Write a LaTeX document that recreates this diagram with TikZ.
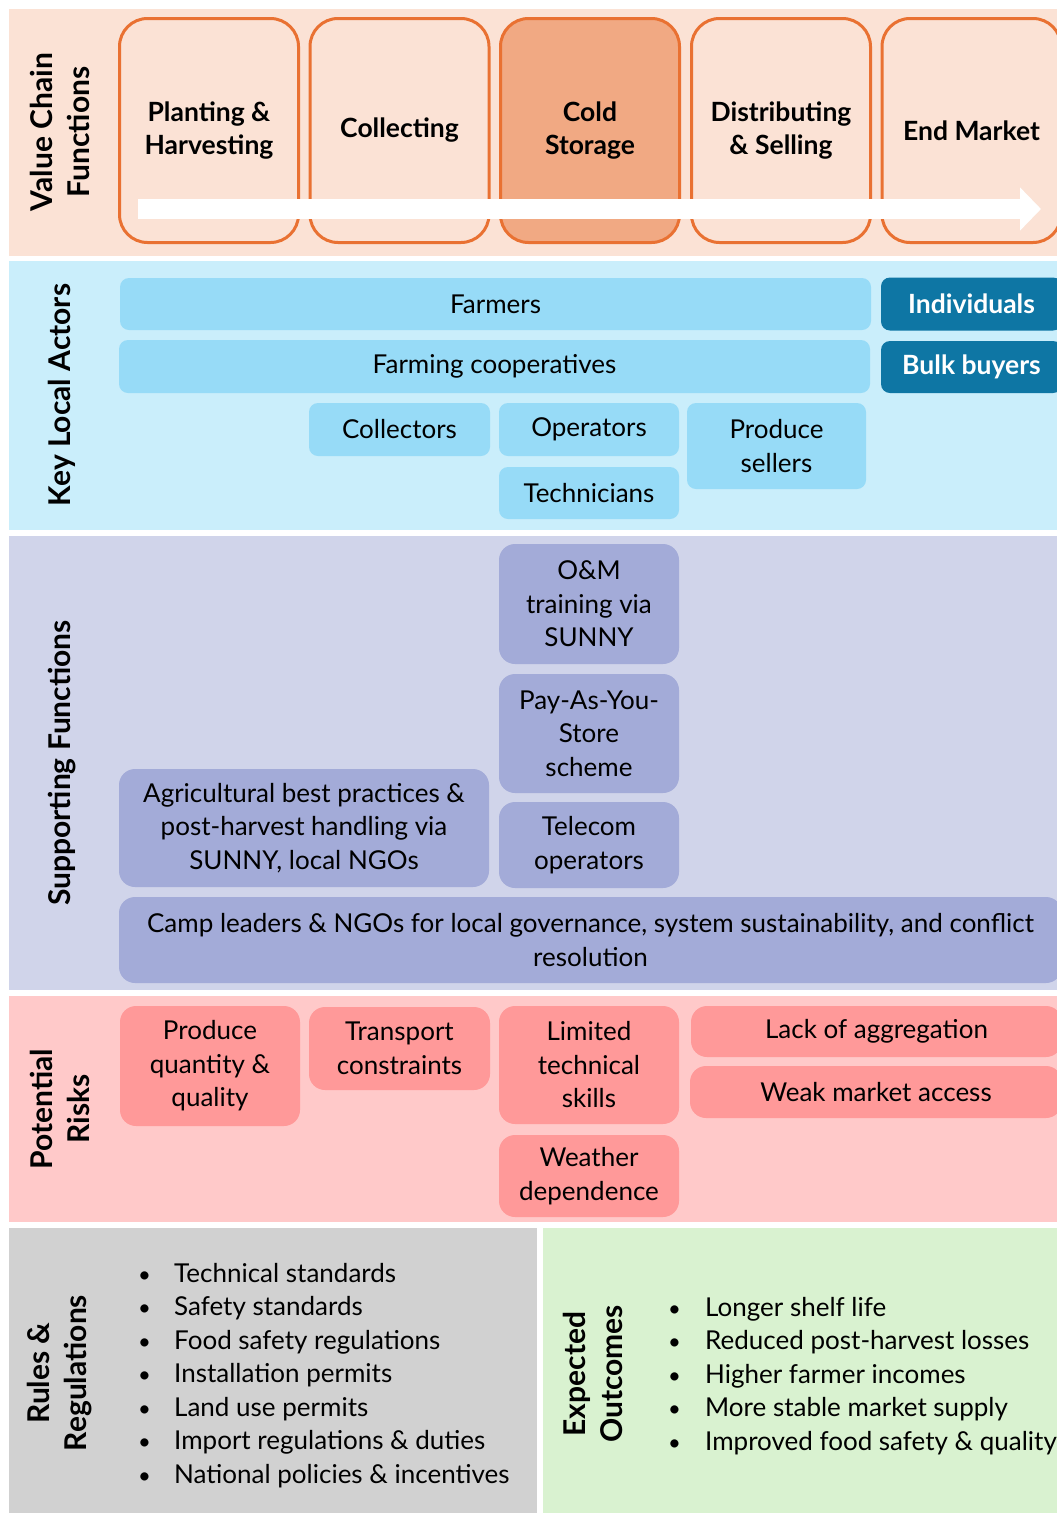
\documentclass[tikz,border=0pt]{standalone}
\usepackage{fontspec}
\setmainfont{Lato}
\usetikzlibrary{arrows.meta}

\definecolor{vcbg}{HTML}{FBE2D5}
\definecolor{vcline}{HTML}{E97132}
\definecolor{vcfill}{HTML}{F1A983}
\definecolor{actbg}{HTML}{CAEEFB}
\definecolor{actbox}{HTML}{97DBF7}
\definecolor{actdark}{HTML}{0E76A4}
\definecolor{supbg}{HTML}{D0D4EA}
\definecolor{supbox}{HTML}{A3ABD8}
\definecolor{riskbg}{HTML}{FFC9C9}
\definecolor{riskbox}{HTML}{FF9999}
\definecolor{rulebg}{HTML}{D1D1D1}
\definecolor{outbg}{HTML}{D9F2D0}

\tikzset{
  bodyfont/.style={font=\fontsize{26}{33.5}\selectfont},
  cell/.style={bodyfont, inner sep=0pt, outer sep=0pt, align=center, text=black},
  vcbox/.style={cell, draw=vcline, line width=3pt, rounded corners=28pt,
    fill=vcbg, minimum width=179pt, minimum height=224pt,
    font=\fontsize{26.5}{33.5}\selectfont\bfseries},
  actor/.style={cell, fill=actbox, rounded corners=9pt},
  buyer/.style={cell, fill=actdark, rounded corners=9pt, text=white,
    font=\fontsize{26.5}{33.5}\selectfont\bfseries},
  support/.style={cell, fill=supbox, rounded corners=16pt},
  risk/.style={cell, fill=riskbox, rounded corners=16pt},
  sidelabel/.style={inner sep=0pt, align=center, rotate=90,
    font=\fontsize{30}{37}\selectfont\bfseries},
  listline/.style={bodyfont, inner sep=0pt, anchor=base west},
}

\begin{document}
\begin{tikzpicture}[x=1pt,y=-1pt]
\useasboundingbox (0,0) rectangle (1057,1513);
\fill[white] (0,0) rectangle (1057,1513);

% background bands
\fill[vcbg]   (9,9)    rectangle (1057,256);
\fill[actbg]  (9,261)  rectangle (1057,530);
\fill[supbg]  (9,536)  rectangle (1057,990);
\fill[riskbg] (9,996)  rectangle (1057,1222);
\fill[rulebg] (9,1228) rectangle (537,1513);
\fill[outbg]  (543,1228) rectangle (1057,1513);

% value chain functions
\node[sidelabel] (vclab) at (60,132) {Value Chain\\Functions};
\node[vcbox] (plant) at (209,130.5)   {Planting \&\\Harvesting};
\node[vcbox] (coll)  at (399.5,130.5) {Collecting};
\node[vcbox, fill=vcfill] (cold) at (590,130.5) {Cold\\Storage};
\node[vcbox] (dist)  at (781,130.5)   {Distributing\\\& Selling};
\node[vcbox] (endm)  at (971.5,130.5) {End Market};
\coordinate (flowS) at (138,209);
\coordinate (flowE) at (1041,209);
\draw[white, line width=20pt, -{Triangle[length=21pt, width=42pt]}] (flowS) -- (flowE);

% key local actors
\node[sidelabel] (actlab) at (62,395) {Key Local Actors};
\node[actor, minimum width=751pt, minimum height=52pt] (farm) at (495.5,304) {Farmers};
\node[actor, minimum width=751pt, minimum height=53pt] (coop) at (494.5,366.5) {Farming cooperatives};
\node[actor, minimum width=181pt, minimum height=53pt] (colr) at (399.5,429.5) {Collectors};
\node[actor, minimum width=180pt, minimum height=53pt] (oper) at (589,429.5) {Operators};
\node[actor, minimum width=180pt, minimum height=52pt] (tech) at (589,493) {Technicians};
\node[actor, minimum width=179pt, minimum height=86pt] (sell) at (776.5,446) {Produce\\sellers};
\node[buyer, minimum width=181pt, minimum height=53pt] (indv) at (971.5,304) {Individuals};
\node[buyer, minimum width=181pt, minimum height=52pt] (bulk) at (971.5,367) {Bulk buyers};

% supporting functions
\node[sidelabel] (suplab) at (62,763) {Supporting Functions};
\node[support, minimum width=180pt, minimum height=120pt] (om) at (589,604) {O\&M\\training via\\SUNNY};
\node[support, minimum width=180pt, minimum height=119pt] (payg) at (589,733.5) {Pay-As-You-\\Store\\scheme};
\node[support, minimum width=180pt, minimum height=86pt] (tele) at (589,845) {Telecom\\operators};
\node[support, minimum width=370pt, minimum height=118pt] (agri) at (304,828) {Agricultural best practices \&\\post-harvest handling via\\SUNNY, local NGOs};
\node[support, minimum width=943pt, minimum height=86pt] (camp) at (590.5,940) {Camp leaders \& NGOs for local governance, system sustainability, and conflict\\resolution};

% potential risks
\node[sidelabel] (risklab) at (60,1109) {Potential\\Risks};
\node[risk, minimum width=180pt, minimum height=120pt] (qual) at (210,1066) {Produce\\quantity \&\\quality};
\node[risk, minimum width=181pt, minimum height=83pt] (trans) at (399.5,1048.5) {Transport\\constraints};
\node[risk, minimum width=180pt, minimum height=118pt] (skill) at (589,1065) {Limited\\technical\\skills};
\node[risk, minimum width=180pt, minimum height=82pt] (wthr) at (589,1176) {Weather\\dependence};
\node[risk, minimum width=371pt, minimum height=51pt] (aggr) at (876.5,1031.5) {Lack of aggregation};
\node[risk, minimum width=372pt, minimum height=52pt] (mkt) at (876,1092) {Weak market access};

% rules and regulations
\node[sidelabel] (rulelab) at (60,1373) {Rules \&\\Regulations};
\foreach \txt [count=\i] in {Technical standards, Safety standards, Food safety regulations,
  Installation permits, Land use permits, Import regulations \& duties,
  National policies \& incentives} {
  \node[listline] (rb\i) at (138,1282+33.5*\i-33.5) {\scalebox{0.85}{\textbullet}};
  \node[listline] (rule\i) at (174,1282+33.5*\i-33.5) {\txt};
}

% expected outcomes
\node[sidelabel] (outlab) at (593,1374) {Expected\\Outcomes};
\foreach \txt [count=\i] in {Longer shelf life, Reduced post-harvest losses,
  Higher farmer incomes, More stable market supply, Improved food safety \& quality} {
  \node[listline] (ob\i) at (668,1316+33.5*\i-33.5) {\scalebox{0.85}{\textbullet}};
  \node[listline] (out\i) at (705,1316+33.5*\i-33.5) {\txt};
}
\end{tikzpicture}
\end{document}
